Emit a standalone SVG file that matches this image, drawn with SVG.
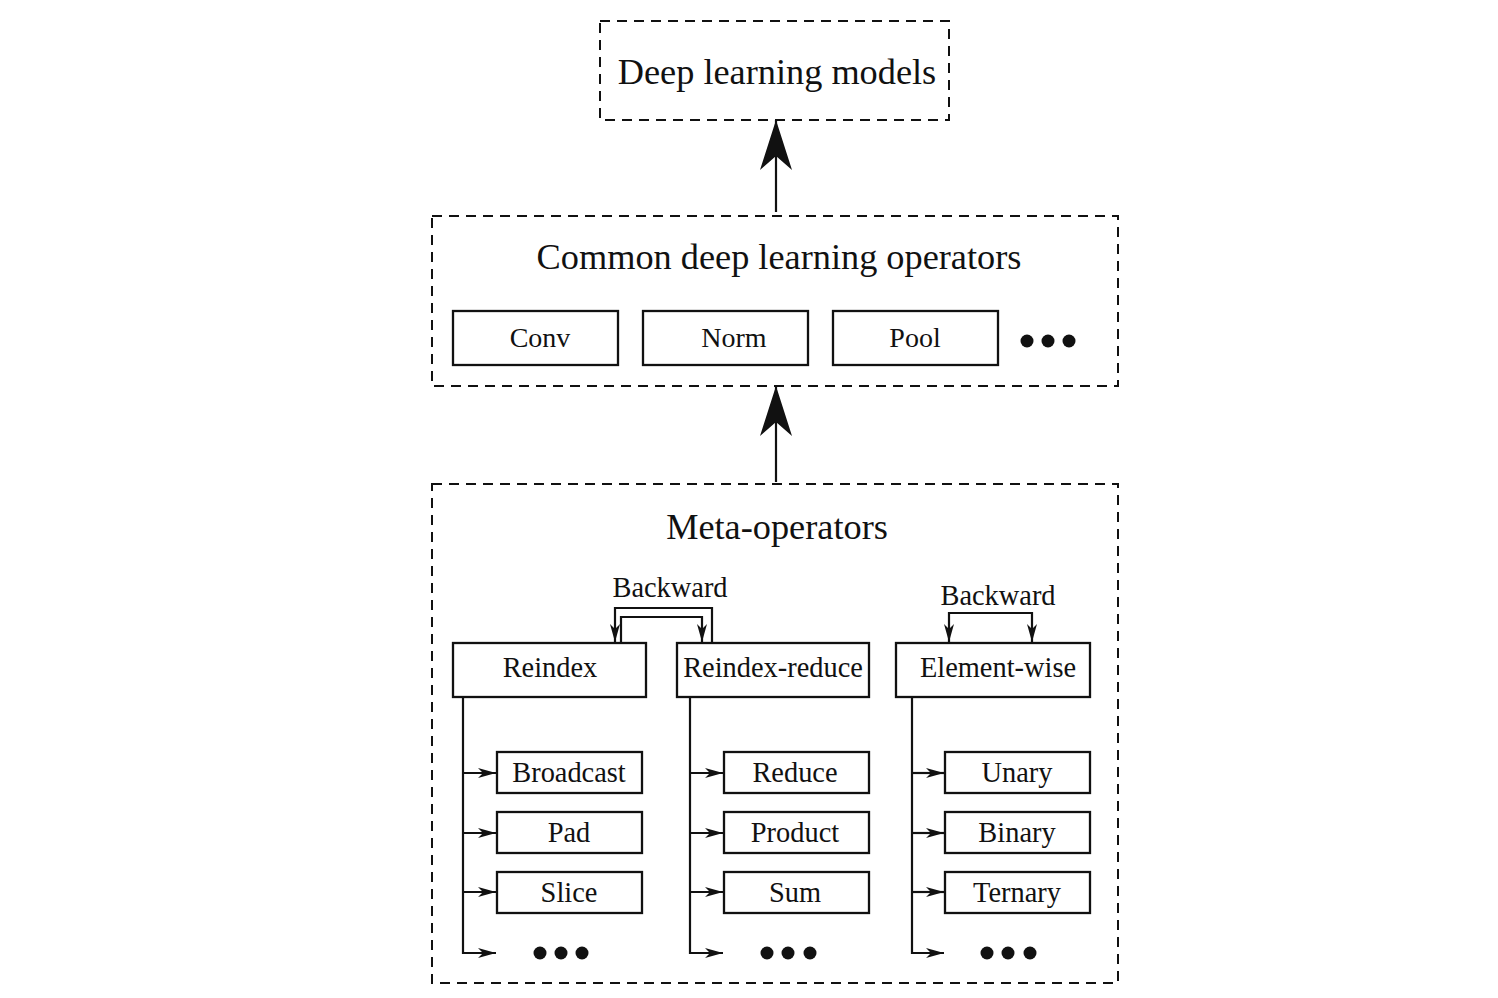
<svg xmlns="http://www.w3.org/2000/svg" width="1498" height="998" viewBox="0 0 1498 998">
<style>
.dash{fill:none;stroke:#111;stroke-width:2;stroke-dasharray:10 7}
.box{fill:#fff;stroke:#111;stroke-width:2.3}
.t{font-family:"Liberation Serif","Times New Roman",serif;fill:#111;text-anchor:middle}
.big{font-size:36.3px}
.mid{font-size:28px}
.sm{font-size:28.4px}
.ln{fill:none;stroke:#111;stroke-width:2.2}
.dot{fill:#111}
</style>
<defs>
<marker id="big" viewBox="0 0 50 32" refX="50" refY="16" markerWidth="50" markerHeight="32" markerUnits="userSpaceOnUse" orient="auto">
<path d="M0 0 L50 16 L0 32 L14 16 Z" fill="#111"/>
</marker>
<marker id="sm" viewBox="0 0 18 10" refX="18" refY="5" markerWidth="18" markerHeight="10" markerUnits="userSpaceOnUse" orient="auto-start-reverse">
<path d="M0 0 L18 5 L0 10 L5 5 Z" fill="#111"/>
</marker>
</defs>
<g id="deep-learning-models">
<rect class="dash" x="600" y="21" width="349" height="99"/>
<text class="t big" x="777" y="84">Deep learning models</text>
</g>
<g id="common-operators">
<rect class="dash" x="432" y="216" width="686" height="170"/>
<text class="t big" x="779" y="269">Common deep learning operators</text>
</g>
<g id="conv"><rect class="box" x="453" y="311" width="165" height="54"/><text class="t mid" x="540" y="347">Conv</text></g>
<g id="norm"><rect class="box" x="643" y="311" width="165" height="54"/><text class="t mid" x="734" y="347">Norm</text></g>
<g id="pool"><rect class="box" x="833" y="311" width="165" height="54"/><text class="t mid" x="915" y="347">Pool</text></g>
<g id="ops-more"><circle class="dot" cx="1027" cy="341" r="6.5"/><circle class="dot" cx="1048" cy="341" r="6.5"/><circle class="dot" cx="1069" cy="341" r="6.5"/></g>
<g id="meta-operators">
<rect class="dash" x="432" y="484" width="686" height="499"/>
<text class="t big" x="777" y="539">Meta-operators</text>
</g>
<g id="reindex"><rect class="box" x="453" y="643" width="193" height="54"/><text class="t sm" x="550" y="677">Reindex</text></g>
<g id="reindex-reduce"><rect class="box" x="677" y="643" width="192" height="54"/><text class="t sm" x="773" y="677">Reindex-reduce</text></g>
<g id="element-wise"><rect class="box" x="896" y="643" width="194" height="54"/><text class="t sm" x="998" y="677">Element-wise</text></g>
<g id="backward-1"><text class="t sm" x="670" y="597">Backward</text></g>
<g id="backward-2"><text class="t sm" x="998" y="605">Backward</text></g>
<g id="broadcast"><rect class="box" x="497" y="752" width="145" height="41"/><text class="t sm" x="569" y="782">Broadcast</text></g>
<g id="pad"><rect class="box" x="497" y="812" width="145" height="41"/><text class="t sm" x="569" y="842">Pad</text></g>
<g id="slice"><rect class="box" x="497" y="872" width="145" height="41"/><text class="t sm" x="569" y="902">Slice</text></g>
<g id="reindex-more"><circle class="dot" cx="540" cy="953" r="6.5"/><circle class="dot" cx="561" cy="953" r="6.5"/><circle class="dot" cx="582" cy="953" r="6.5"/></g>
<g id="reduce"><rect class="box" x="724" y="752" width="145" height="41"/><text class="t sm" x="795" y="782">Reduce</text></g>
<g id="product"><rect class="box" x="724" y="812" width="145" height="41"/><text class="t sm" x="795" y="842">Product</text></g>
<g id="sum"><rect class="box" x="724" y="872" width="145" height="41"/><text class="t sm" x="795" y="902">Sum</text></g>
<g id="reduce-more"><circle class="dot" cx="767" cy="953" r="6.5"/><circle class="dot" cx="788" cy="953" r="6.5"/><circle class="dot" cx="810" cy="953" r="6.5"/></g>
<g id="unary"><rect class="box" x="945" y="752" width="145" height="41"/><text class="t sm" x="1017" y="782">Unary</text></g>
<g id="binary"><rect class="box" x="945" y="812" width="145" height="41"/><text class="t sm" x="1017" y="842">Binary</text></g>
<g id="ternary"><rect class="box" x="945" y="872" width="145" height="41"/><text class="t sm" x="1017" y="902">Ternary</text></g>
<g id="element-more"><circle class="dot" cx="987" cy="953" r="6.5"/><circle class="dot" cx="1008" cy="953" r="6.5"/><circle class="dot" cx="1030" cy="953" r="6.5"/></g>
<g id="connectors">
<path class="ln" d="M776 212 V120" marker-end="url(#big)"/>
<path class="ln" d="M776 482 V386" marker-end="url(#big)"/>
<path class="ln" d="M712 643 V608 H615 V642" marker-end="url(#sm)"/>
<path class="ln" d="M621 643 V617 H702 V642" marker-end="url(#sm)"/>
<path class="ln" d="M949 642 V613 H1032 V642" marker-start="url(#sm)" marker-end="url(#sm)"/>
<path class="ln" d="M463 697 V953 H496"  marker-end="url(#sm)"/>
<path class="ln" d="M463 773 H496" marker-end="url(#sm)"/>
<path class="ln" d="M463 833 H496" marker-end="url(#sm)"/>
<path class="ln" d="M463 892 H496" marker-end="url(#sm)"/>
<path class="ln" d="M690 697 V953 H723" marker-end="url(#sm)"/>
<path class="ln" d="M690 773 H723" marker-end="url(#sm)"/>
<path class="ln" d="M690 833 H723" marker-end="url(#sm)"/>
<path class="ln" d="M690 892 H723" marker-end="url(#sm)"/>
<path class="ln" d="M912 697 V953 H944" marker-end="url(#sm)"/>
<path class="ln" d="M912 773 H944" marker-end="url(#sm)"/>
<path class="ln" d="M912 833 H944" marker-end="url(#sm)"/>
<path class="ln" d="M912 892 H944" marker-end="url(#sm)"/>
</g>
</svg>
